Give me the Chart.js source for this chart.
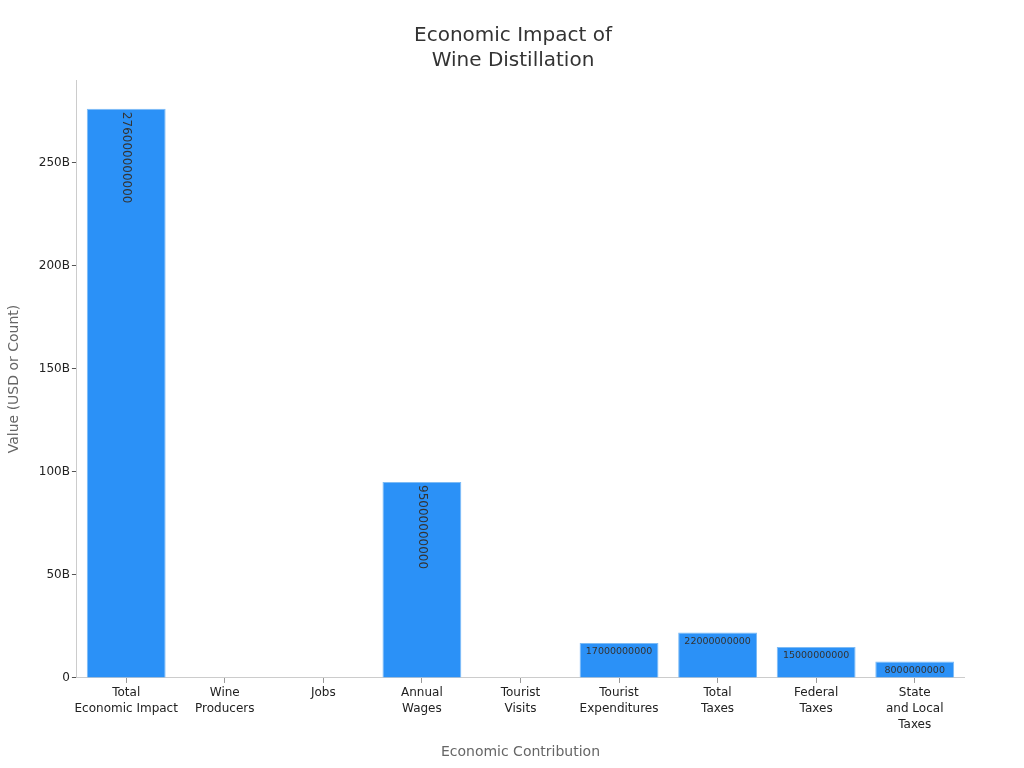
<!DOCTYPE html>
<html><head><meta charset="utf-8">
<script src="https://cdn.jsdelivr.net/npm/chart.js@4/dist/chart.umd.min.js"></script>
<style>html,body{margin:0;padding:0;background:#fff}#wrap{width:1024px;height:768px}</style>
</head><body><div id="wrap"><canvas id="c" width="1024" height="768"></canvas></div>
<script>
const categories = [["Total","Economic Impact"],["Wine","Producers"],["Jobs"],["Annual","Wages"],["Tourist","Visits"],["Tourist","Expenditures"],["Total","Taxes"],["Federal","Taxes"],["State","and Local","Taxes"]];
const values = [276000000000, 11000, 1800000, 95000000000, 43000000, 17000000000, 22000000000, 15000000000, 8000000000];
const yTicks = [0, 50e9, 100e9, 150e9, 200e9, 250e9];

const labelPlugin = {
  id: 'barLabels',
  afterDatasetsDraw(chart) {
    const ctx = chart.ctx;
    const meta = chart.getDatasetMeta(0);
    meta.data.forEach((bar, i) => {
      const h = bar.base - bar.y;
      if (h < 12) return;
      const txt = String(values[i]);
      ctx.save();
      ctx.fillStyle = '#333';
      ctx.textAlign = 'center';
      if (h > 120) {
        ctx.font = '12px "DejaVu Sans"';
        ctx.translate(bar.x, bar.y + 3);
        ctx.rotate(Math.PI / 2);
        ctx.textAlign = 'left';
        ctx.textBaseline = 'middle';
        ctx.fillText(txt, 0, 0);
      } else {
        ctx.font = '9.5px "DejaVu Sans"';
        ctx.textBaseline = 'top';
        ctx.fillText(txt, bar.x, bar.y + 4);
      }
      ctx.restore();
    });
  }
};

new Chart(document.getElementById('c'), {
  type: 'bar',
  data: {
    labels: categories,
    datasets: [{
      data: values,
      backgroundColor: ctx => (ctx.raw > 1e9 ? '#2b91f7' : 'rgba(0,0,0,0)'),
      borderColor: '#7dbbf5',
      borderWidth: ctx => (ctx.raw > 1e9 ? 1 : 0),
      categoryPercentage: 0.8,
      barPercentage: 1.0
    }]
  },
  options: {
    responsive: false,
    animation: false,
    layout: { padding: { left: 2, right: 0, top: 14, bottom: 3 } },
    plugins: {
      legend: { display: false },
      tooltip: { enabled: false },
      title: {
        display: true,
        text: ['Economic Impact of', 'Wine Distillation'],
        color: '#333',
        font: { family: 'DejaVu Sans', size: 20, weight: 'normal', lineHeight: 1.25 },
        padding: { top: 9, bottom: 7 }
      }
    },
    scales: {
      x: {
        grid: { display: true, offset: false, drawOnChartArea: false, drawTicks: true, tickLength: 5, color: '#999' },
        border: { color: '#ccc' },
        ticks: { color: '#222', font: { family: 'DejaVu Sans', size: 12, lineHeight: 1.34 }, maxRotation: 0, autoSkip: false, padding: 2 },
        title: { display: true, text: 'Economic Contribution', color: '#666', font: { family: 'DejaVu Sans', size: 14 }, padding: { top: 9 } }
      },
      y: {
        min: 0, max: 290e9,
        afterBuildTicks(axis) { axis.ticks = yTicks.map(v => ({ value: v })); },
        grid: { display: true, drawOnChartArea: false, drawTicks: true, tickLength: 5, color: '#555' },
        border: { color: '#ccc' },
        ticks: {
          color: '#222', font: { family: 'DejaVu Sans', size: 12 }, padding: 2,
          callback: v => v === 0 ? '0' : (v / 1e9) + 'B'
        },
        title: { display: true, text: 'Value (USD or Count)', color: '#666', font: { family: 'DejaVu Sans', size: 14 }, padding: { bottom: 14 } }
      },
      spacer: {
        position: 'right',
        display: true,
        grid: { display: false },
        border: { display: false },
        ticks: { display: false },
        afterFit(scale) { scale.width = 60; }
      }
    }
  },
  plugins: [labelPlugin]
});
</script>
</body></html>
